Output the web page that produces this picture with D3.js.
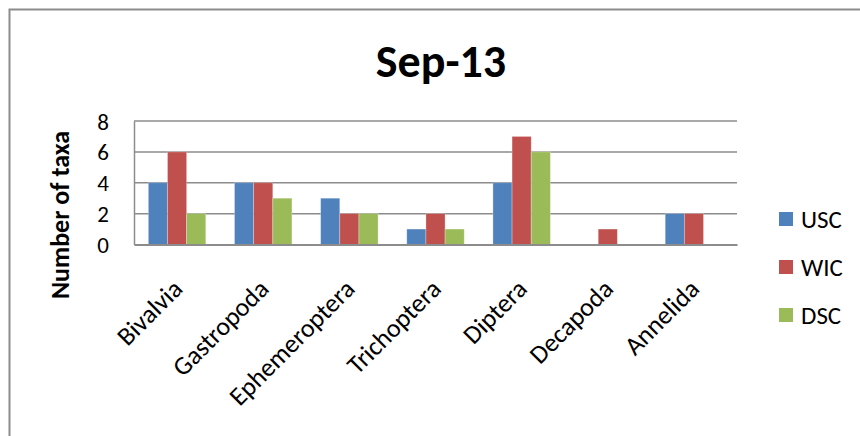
<!DOCTYPE html>
<html>
<head>
<meta charset="utf-8">
<script src="https://cdn.jsdelivr.net/npm/d3@7"></script>
<style>
  html, body { margin: 0; padding: 0; background: #fff; }
  svg { display: block; font-family: Carlito, Calibri, Lato, "Open Sans", sans-serif; }
</style>
</head>
<body>
<svg id="chart" width="860" height="436"></svg>
<script>
// Number of taxa per group, September 2013
const title = "Sep-13";
const categories = ["Bivalvia", "Gastropoda", "Ephemeroptera", "Trichoptera", "Diptera", "Decapoda", "Annelida"];
const seriesNames = ["USC", "WIC", "DSC"];
const usc = [4, 4, 3, 1, 4, 0, 2];
const wic = [6, 4, 2, 2, 7, 1, 2];
const dsc = [2, 3, 2, 1, 6, 0, 0];
const yTicks = [0, 2, 4, 6, 8];
const colors = ["#4F81BD", "#C0504D", "#9BBB59"];

const seriesValues = [usc, wic, dsc];
const rows = categories.map((c, i) => ({
  category: c,
  values: seriesNames.map((s, j) => ({ series: s, value: seriesValues[j][i] }))
}));

const svg = d3.select("#chart");

// outer chart frame
svg.append("rect")
  .attr("x", 9.5).attr("y", 9.5)
  .attr("width", 900).attr("height", 600)
  .attr("fill", "none").attr("stroke", "#8c8c8c").attr("stroke-width", 2);

const plot = { left: 134, right: 737, top: 121, bottom: 244.5 };

const x = d3.scaleBand().domain(categories).range([plot.left, plot.right]).paddingInner(0).paddingOuter(0);
const groupWidth = x.bandwidth() * 3 / 4.5;
const xs = d3.scaleBand().domain(seriesNames).range([0, groupWidth]).padding(0);
const y = d3.scaleLinear().domain([0, 8]).range([plot.bottom, plot.top]);

// horizontal gridlines
svg.append("g").selectAll("line").data(yTicks.filter(t => t > 0)).join("line")
  .attr("x1", plot.left).attr("x2", plot.right)
  .attr("y1", d => y(d)).attr("y2", d => y(d))
  .attr("stroke", "#8c8c8c").attr("stroke-width", 1.5);

// bars
const groups = svg.append("g").selectAll("g").data(rows).join("g")
  .attr("transform", d => `translate(${x(d.category) + (x.bandwidth() - groupWidth) / 2},0)`);
groups.selectAll("rect").data(d => d.values.filter(v => v.value > 0)).join("rect")
  .attr("x", d => xs(d.series))
  .attr("width", xs.bandwidth())
  .attr("y", d => y(d.value))
  .attr("height", d => y(0) - y(d.value))
  .attr("fill", d => colors[seriesNames.indexOf(d.series)])
  .attr("stroke", "#ffffff").attr("stroke-opacity", 0.35).attr("stroke-width", 0.8);

// y axis
const yAxis = d3.axisLeft(y).tickValues(yTicks).tickFormat(d3.format("d")).tickSize(0).tickPadding(25);
const yg = svg.append("g").attr("transform", `translate(${plot.left},0)`).call(yAxis)
  .attr("font-family", null).attr("font-size", null);
yg.select(".domain").attr("stroke", "#8c8c8c").attr("stroke-width", 1.5);
yg.selectAll("text").attr("font-size", 23).attr("fill", "#000").attr("dy", "0.35em");

// x axis
const xAxis = d3.axisBottom(x).tickSize(0).tickFormat(d => d);
const xg = svg.append("g").attr("transform", `translate(0,${plot.bottom})`).call(xAxis)
  .attr("font-family", null).attr("font-size", null);
xg.select(".domain").attr("stroke", "#8c8c8c").attr("stroke-width", 2);
xg.selectAll("text")
  .attr("font-size", 26).attr("fill", "#000")
  .attr("text-anchor", "end")
  .attr("y", 0).attr("dy", 0)
  .attr("transform", "translate(7,46) rotate(-45)");

// y axis title
svg.append("text")
  .attr("transform", "translate(69,215) rotate(-90)")
  .attr("text-anchor", "middle")
  .attr("font-size", 26).attr("font-weight", "bold")
  .text("Number of taxa");

// chart title
svg.append("text")
  .attr("x", 441).attr("y", 77)
  .attr("text-anchor", "middle")
  .attr("font-size", 46).attr("font-weight", "bold")
  .text(title);

// legend
const legend = svg.append("g").selectAll("g").data(seriesNames).join("g")
  .attr("transform", (d, i) => `translate(779,${212 + i * 48})`);
legend.append("rect").attr("width", 14).attr("height", 14).attr("fill", (d, i) => colors[i]);
legend.append("text").attr("x", 22).attr("y", 7).attr("dy", "0.35em")
  .attr("font-size", 25).text(d => d);
</script>
</body>
</html>
